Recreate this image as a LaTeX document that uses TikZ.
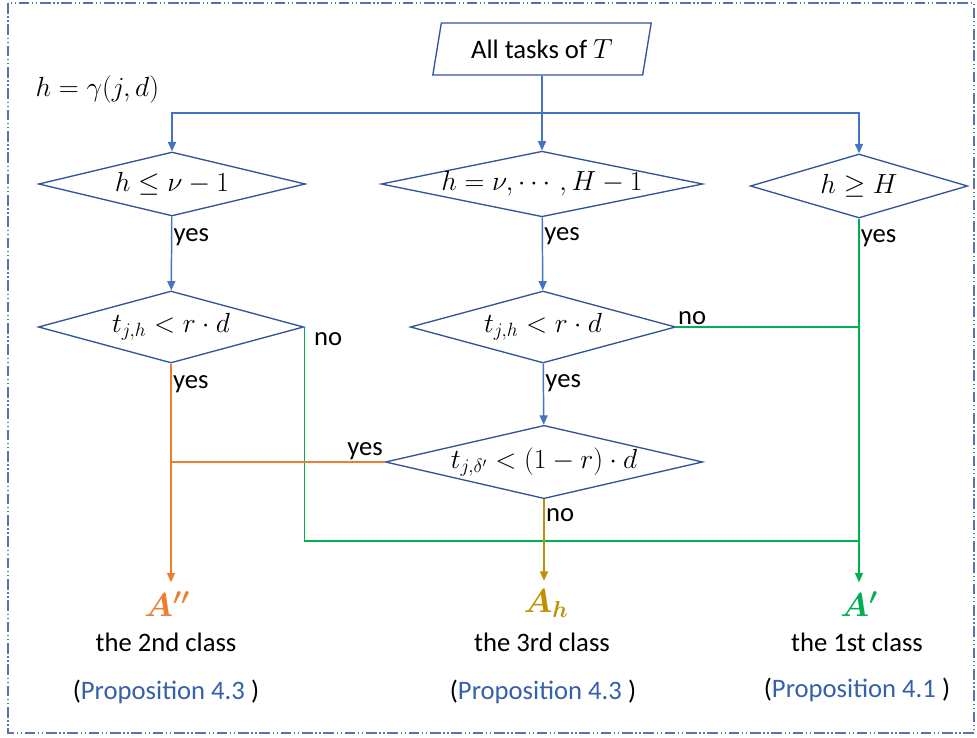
\documentclass[tikz,border=0pt]{standalone}
\usepackage{amsmath, amssymb, bm}
\usepackage{fontspec}
\setmainfont{Carlito}
\usetikzlibrary{arrows.meta, calc, shapes.geometric}

\definecolor{boxblue}{HTML}{2F5597}
\definecolor{arrblue}{HTML}{4472C4}
\definecolor{propblue}{HTML}{3560AA}
\definecolor{frameblue}{HTML}{5675B0}
\definecolor{orng}{HTML}{ED7D31}
\definecolor{gold}{HTML}{BF9000}
\definecolor{grn}{HTML}{00B050}

\begin{document}
\begin{tikzpicture}[x=0.75pt,y=-0.75pt,
    decision/.style={diamond,draw=boxblue,line width=1pt,inner sep=0pt,aspect=4.5,
        font=\fontsize{21}{23}\selectfont},
    flow/.style={draw=arrblue,line width=1.1pt,-{Triangle[length=7pt,width=6pt]}},
    txt/.style={font=\fontsize{20}{22}\selectfont,inner sep=1pt},
    result/.style={inner sep=0pt,outer sep=7pt,font=\fontsize{25}{27}\selectfont}]
    \useasboundingbox (0,0) rectangle (977,738);
    \draw [frameblue,line width=1pt,dash pattern=on 8pt off 2pt on 1pt off 2pt on 1pt off 2pt]
        (8,3) rectangle (974,733);

    % start and the three ranges of h
    \node [trapezium,trapezium left angle=77,trapezium right angle=103,trapezium stretches=true,
        draw=boxblue,line width=1pt,minimum width=164pt,minimum height=39pt,inner xsep=4pt,
        font=\fontsize{20}{22}\selectfont] (all) at (542,49) {All tasks of $T$};
    \node [anchor=west,font=\fontsize{22}{24}\selectfont] (hdef) at (31,90) {$h=\gamma(j,d)$};
    \node [decision,minimum width=200pt,minimum height=48pt] (c1) at (172,184) {$h\le\nu-1$};
    \node [decision,minimum width=238pt,minimum height=48pt,aspect=4.9,font=\fontsize{20}{22}\selectfont]
        (c2) at (542,184) {$h=\nu,\cdots,H-1$};
    \node [decision,minimum width=163pt,minimum height=48pt] (c3) at (859,186) {$h\ge H$};

    % tests on t
    \node [decision,minimum width=199pt,minimum height=54pt] (c4) at (171,327) {$t_{j,h}<r\cdot d$};
    \node [decision,minimum width=199pt,minimum height=54pt] (c5) at (543,327) {$t_{j,h}<r\cdot d$};
    \node [decision,minimum width=238pt,minimum height=55pt,font=\fontsize{20}{22}\selectfont]
        (c6) at (544,462) {$t_{j,\delta'}<(1-r)\cdot d$};

    % classes
    \node [result,text=orng] (a2) at (167,604) {$\bm{A''}$};
    \node [result,text=gold] (ah) at (546,604) {$\bm{A_h}$};
    \node [result,text=grn] (a1) at (859,604) {$\bm{A'}$};
    \node [txt] (t2) at (166,642) {the 2nd class};
    \node [txt] (t3) at (542,642) {the 3rd class};
    \node [txt] (t1) at (857,642) {the 1st class};
    \node [txt] (p2) at (166,692) {(\textcolor{propblue}{Proposition 4.3} )};
    \node [txt] (p3) at (543,692) {(\textcolor{propblue}{Proposition 4.3} )};
    \node [txt] (p1) at (857,690) {(\textcolor{propblue}{Proposition 4.1} )};

    % connectors
    \coordinate (split) at (542,113);
    \draw [draw=arrblue,line width=1.1pt] (all) -- (split);
    \draw [flow] (split) -| (c1);
    \draw [flow] (split) -- (c2);
    \draw [flow] (split) -| (c3);
    \draw [flow] (c1) -- node [txt,pos=.28,anchor=west] (y1) {yes} (c4);
    \draw [flow] (c2) -- node [txt,pos=.25,anchor=west] (y2) {yes} (c5);
    \draw [flow] (c5) -- node [txt,pos=.32,anchor=west] (y5) {yes} (c6);
    \draw [grn,line width=.9pt,-{Triangle[length=7pt,width=6pt]}] (c3) -- node [txt,pos=.055,anchor=west,black] (y3) {yes} (a1);
    \draw [grn,line width=.8pt] (c5.east) -- node [txt,pos=0,anchor=south west,black] (n5) {no} (c5.east -| a1);
    \draw [grn,line width=.8pt] (c4.east) -- node [txt,pos=0,anchor=north west,black,xshift=6pt,yshift=-3pt] (n4) {no} (c4.east |- 0,541) -- ($(a1)+(0,-63)$);
    \draw [orng,line width=1.1pt,-{Triangle[length=7pt,width=6pt]}] (c4) -- node [txt,pos=.094,anchor=west,black] (y4) {yes} (c4 |- a2.north);
    \draw [orng,line width=.8pt] (c6.west) -- node [txt,pos=0,anchor=south east,black] (y6) {yes} (c6.west -| c4);
    \draw [gold,line width=1.1pt,-{Triangle[length=7pt,width=6pt]}] (c6) -- node [txt,pos=.19,anchor=west,black] (n6) {no} (c6 |- ah.north);
\end{tikzpicture}
\end{document}
